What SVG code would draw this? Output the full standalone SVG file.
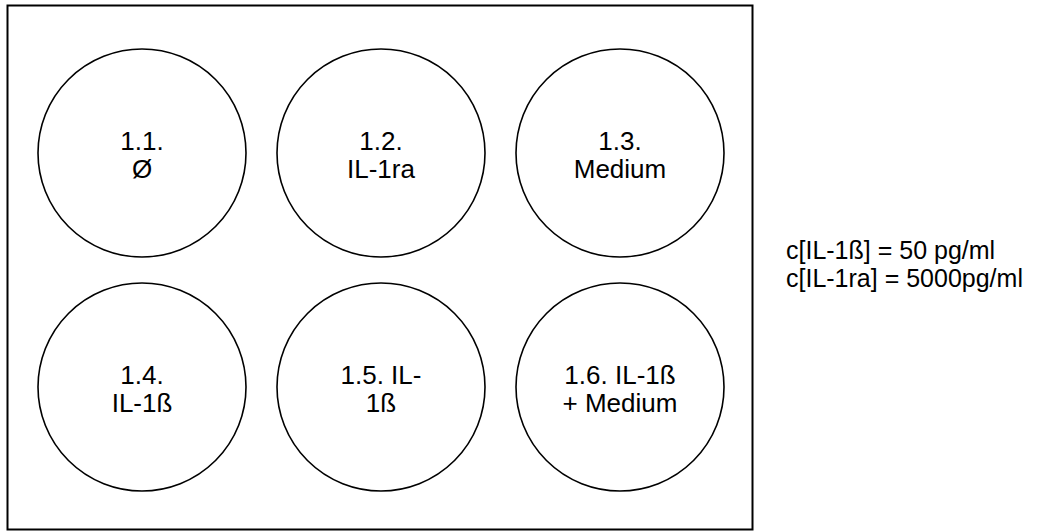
<svg xmlns="http://www.w3.org/2000/svg" width="1045" height="532" viewBox="0 0 1045 532">
  <style>
    .plate { fill: #ffffff; stroke: #000000; stroke-width: 2; }
    .well { fill: #ffffff; stroke: #000000; stroke-width: 1.6; }
    .lbl { font-family: "Liberation Sans", Arial, sans-serif; font-size: 26px; fill: #000000; text-anchor: middle; }
    .note { font-family: "Liberation Sans", Arial, sans-serif; font-size: 25px; fill: #000000; }
  </style>
  <rect width="1045" height="532" fill="#ffffff"/>
  <!-- culture plate outline -->
  <g id="plate">
    <rect class="plate" x="7.5" y="5.5" width="745" height="524"/>
  </g>
  <!-- six wells -->
  <g id="well-1-1">
    <circle class="well" cx="142" cy="153" r="104"/>
    <text class="lbl" x="142" y="150">1.1.</text>
    <text class="lbl" x="142" y="178">Ø</text>
  </g>
  <g id="well-1-2">
    <circle class="well" cx="381" cy="153" r="104"/>
    <text class="lbl" x="381" y="150">1.2.</text>
    <text class="lbl" x="381" y="178">IL-1ra</text>
  </g>
  <g id="well-1-3">
    <circle class="well" cx="620" cy="153" r="104"/>
    <text class="lbl" x="620" y="150">1.3.</text>
    <text class="lbl" x="620" y="178">Medium</text>
  </g>
  <g id="well-1-4">
    <circle class="well" cx="142" cy="387" r="104"/>
    <text class="lbl" x="142" y="384">1.4.</text>
    <text class="lbl" x="142" y="412">IL-1ß</text>
  </g>
  <g id="well-1-5">
    <circle class="well" cx="381" cy="387" r="104"/>
    <text class="lbl" x="381" y="384">1.5. IL-</text>
    <text class="lbl" x="381" y="412">1ß</text>
  </g>
  <g id="well-1-6">
    <circle class="well" cx="620" cy="387" r="104"/>
    <text class="lbl" x="620" y="384">1.6. IL-1ß</text>
    <text class="lbl" x="620" y="412">+ Medium</text>
  </g>
  <!-- concentrations -->
  <g id="concentrations">
    <text class="note" x="786" y="259">c[IL-1ß] = 50 pg/ml</text>
    <text class="note" x="786" y="287">c[IL-1ra] = 5000pg/ml</text>
  </g>
</svg>
